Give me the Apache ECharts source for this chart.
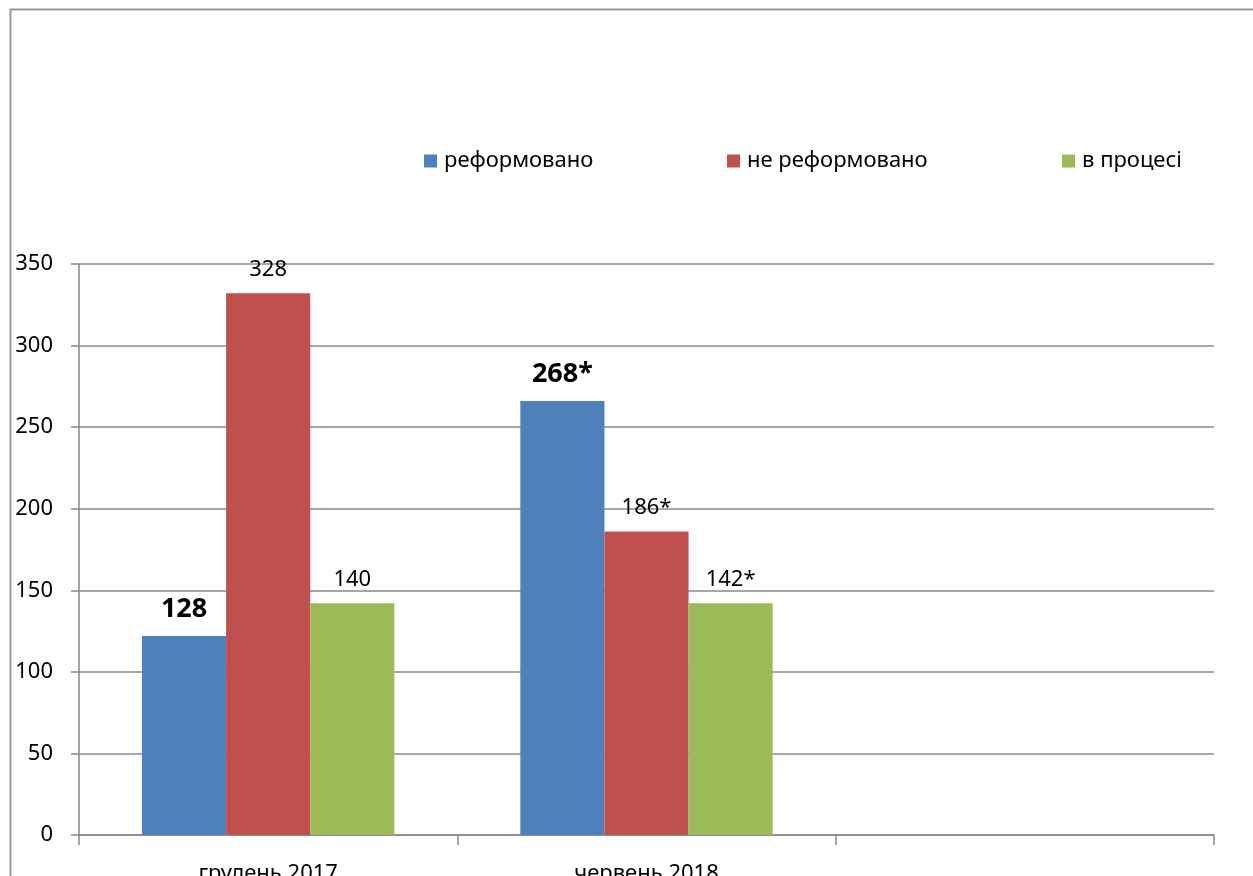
<!DOCTYPE html>
<html>
<head>
<meta charset="utf-8">
<script src="https://cdn.jsdelivr.net/npm/echarts@6/dist/echarts.min.js"></script>
<style>
html,body{margin:0;padding:0;background:#fff;}
#chart{width:1253px;height:876px;}
</style>
</head>
<body>
<div id="chart"></div>
<script>
var categories = ['грудень 2017', 'червень 2018', ''];
var seriesNames = ['реформовано', 'не реформовано', 'в процесі'];
var reformed = [122, 266, null];
var notReformed = [332, 186, null];
var inProcess = [142, 142, null];
var reformedLabels = ['128', '268*', ''];
var notReformedLabels = ['328', '186*', ''];
var inProcessLabels = ['140', '142*', ''];
var yTicks = [0, 50, 100, 150, 200, 250, 300, 350];

var colors = ['#4F81BD', '#C0504D', '#9BBB59'];
var FONT = 'Noto Sans';

var chart = echarts.init(document.getElementById('chart'));

function mkSeries(name, data, labels, color, bold) {
  return {
    name: name,
    type: 'bar',
    data: data,
    barGap: '0%',
    barCategoryGap: '33.3%',
    itemStyle: {color: color},
    label: {
      show: true,
      position: 'top',
      distance: bold ? 13 : 13,
      color: '#000',
      fontFamily: FONT,
      fontSize: bold ? 27 : 22,
      fontWeight: bold ? 'bold' : 'normal',
      formatter: function (p) { return labels[p.dataIndex]; }
    },
    emphasis: {disabled: true},
    animation: false
  };
}

function mkLegend(name, left) {
  return {
    data: [name],
    left: left,
    top: 150,
    padding: 0,
    itemWidth: 13,
    itemHeight: 13,
    icon: 'rect',
    itemGap: 0,
    textStyle: {fontFamily: FONT, fontSize: 22, color: '#000', padding: [0, 0, 0, 2]}
  };
}

chart.setOption({
  backgroundColor: '#fff',
  animation: false,
  graphic: [{
    type: 'rect',
    shape: {x: 10.5, y: 9.5, width: 1260, height: 900},
    style: {fill: 'none', stroke: '#999', lineWidth: 2},
    silent: true,
    z: 100
  }],
  legend: [
    mkLegend(seriesNames[0], 424),
    mkLegend(seriesNames[1], 727),
    mkLegend(seriesNames[2], 1062)
  ],
  grid: {left: 79, right: 39, top: 264, bottom: 41, containLabel: false, outerBoundsMode: 'none'},
  xAxis: {
    type: 'category',
    data: categories,
    axisLine: {lineStyle: {color: '#888', width: 1.5}},
    axisTick: {show: true, length: 10, alignWithLabel: false, lineStyle: {color: '#888', width: 1.5}},
    axisLabel: {fontFamily: FONT, fontSize: 22, color: '#000', margin: 28}
  },
  yAxis: {
    type: 'value',
    min: yTicks[0],
    max: yTicks[yTicks.length - 1],
    interval: 50,
    axisLine: {show: true, lineStyle: {color: '#888', width: 1.5}},
    axisTick: {show: true, length: 8, lineStyle: {color: '#888', width: 1.5}},
    axisLabel: {fontFamily: FONT, fontSize: 22, color: '#000', margin: 26},
    splitLine: {lineStyle: {color: '#888', width: 1.5}}
  },
  series: [
    mkSeries(seriesNames[0], reformed, reformedLabels, colors[0], true),
    mkSeries(seriesNames[1], notReformed, notReformedLabels, colors[1], false),
    mkSeries(seriesNames[2], inProcess, inProcessLabels, colors[2], false)
  ]
});
</script>
</body>
</html>
